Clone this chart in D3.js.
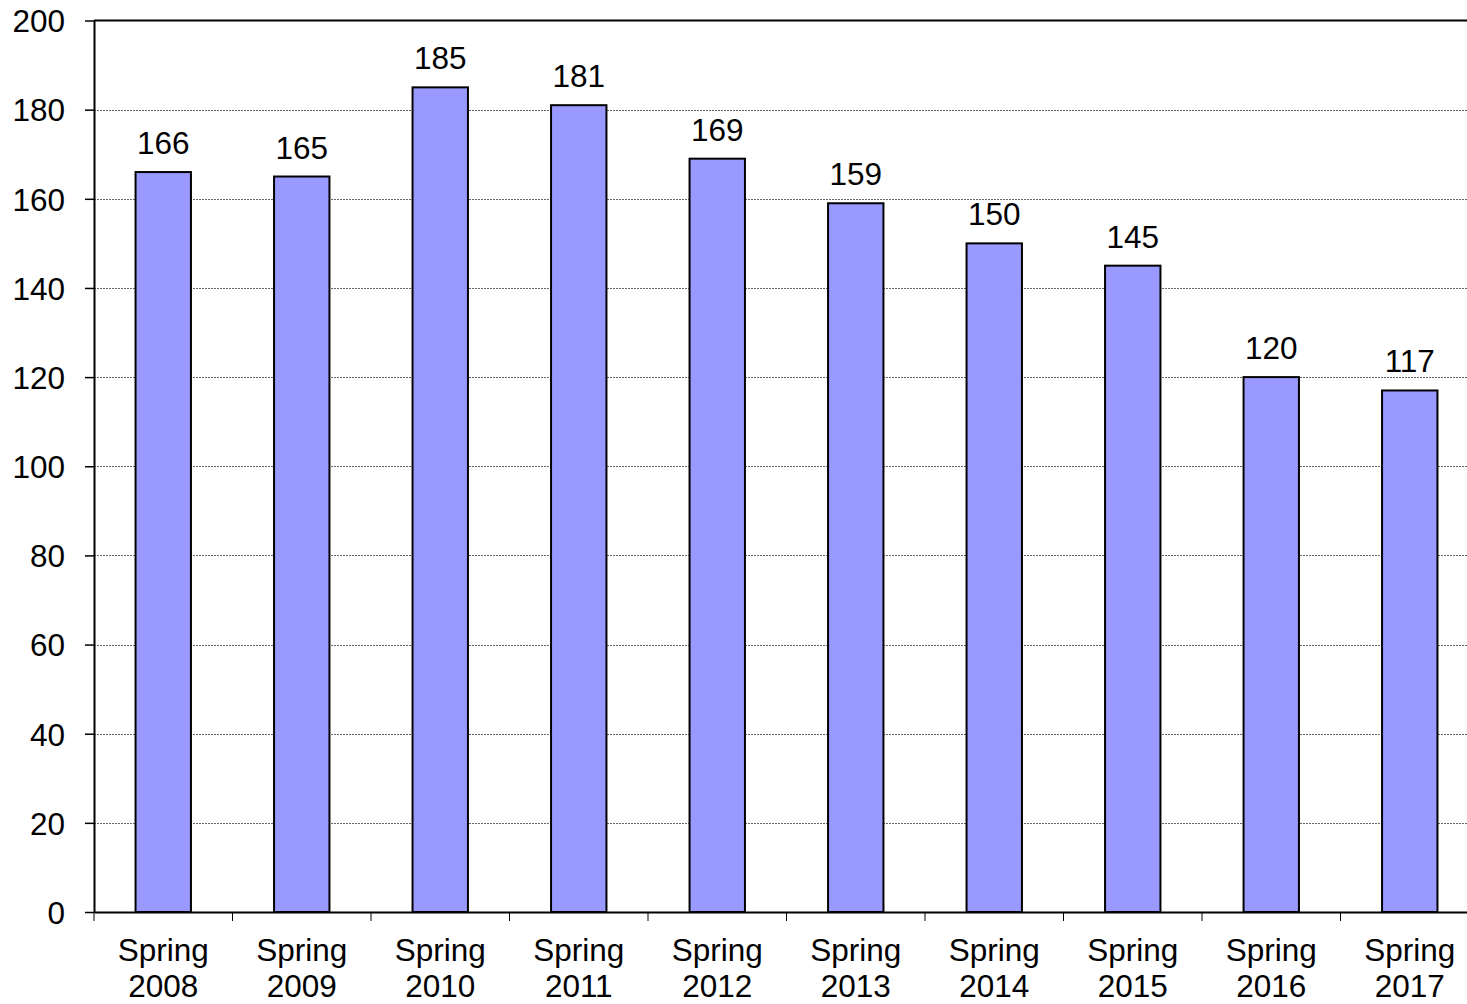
<!DOCTYPE html>
<html>
<head>
<meta charset="utf-8">
<script src="https://cdn.jsdelivr.net/npm/d3@7"></script>
<style>
  body { margin: 0; background: #fff; }
  svg { display: block; font-family: "Liberation Sans", Arial, sans-serif; }
</style>
</head>
<body>
<div id="chart"></div>
<script>
// data
const seasons = ["Spring 2008", "Spring 2009", "Spring 2010", "Spring 2011", "Spring 2012",
                 "Spring 2013", "Spring 2014", "Spring 2015", "Spring 2016", "Spring 2017"];
const counts = [166, 165, 185, 181, 169, 159, 150, 145, 120, 117];
const yTicks = [0, 20, 40, 60, 80, 100, 120, 140, 160, 180, 200];

const width = 1467, height = 1004;
const margin = {top: 20.5, right: -12, bottom: 92, left: 94};
const fontSize = "31.5px";

const svg = d3.select("#chart").append("svg")
  .attr("width", width).attr("height", height);

const x = d3.scaleBand()
  .domain(seasons)
  .range([margin.left, width - margin.right])
  .padding(0);

const y = d3.scaleLinear()
  .domain([0, 200])
  .range([height - margin.bottom, margin.top]);

const barW = x.bandwidth() * 0.4;

// dotted gridlines
svg.append("g")
  .selectAll("line")
  .data(yTicks.filter(d => d > 0 && d < 200))
  .join("line")
    .attr("x1", margin.left)
    .attr("x2", width)
    .attr("y1", d => Math.round(y(d)) + 0.5)
    .attr("y2", d => Math.round(y(d)) + 0.5)
    .attr("stroke", "#666")
    .attr("stroke-width", 1)
    .attr("stroke-dasharray", "2,1");

// top border of plot area
svg.append("line")
  .attr("x1", margin.left).attr("x2", width)
  .attr("y1", y(200)).attr("y2", y(200))
  .attr("stroke", "#000").attr("stroke-width", 2);

// bars
svg.append("g")
  .selectAll("rect")
  .data(counts)
  .join("rect")
    .attr("x", (d, i) => x(seasons[i]) + (x.bandwidth() - barW) / 2)
    .attr("y", d => y(d))
    .attr("width", barW)
    .attr("height", d => y(0) - y(d))
    .attr("fill", "#9999FF")
    .attr("stroke", "#000")
    .attr("stroke-width", 2);

// value labels
svg.append("g")
  .selectAll("text")
  .data(counts)
  .join("text")
    .attr("x", (d, i) => x(seasons[i]) + x.bandwidth() / 2)
    .attr("y", d => y(d) - 18)
    .attr("text-anchor", "middle")
    .style("font-size", fontSize)
    .text(d => d);

// y axis
const yAxis = svg.append("g")
  .attr("transform", `translate(${margin.left},0)`)
  .call(d3.axisLeft(y).tickValues(yTicks).tickSize(9).tickPadding(20).tickSizeOuter(0));
yAxis.select(".domain").attr("stroke", "#000").attr("stroke-width", 2);
yAxis.selectAll(".tick line").attr("stroke", "#000").attr("stroke-width", 1.5);
yAxis.selectAll("text")
  .style("font-size", fontSize)
  .attr("fill", "#000")
  .attr("dy", "0.36em");

// x axis
const xAxis = svg.append("g")
  .attr("transform", `translate(0,${y(0)})`)
  .call(d3.axisBottom(x).tickSize(0).tickFormat(""));
xAxis.select(".domain").attr("stroke", "#000").attr("stroke-width", 2);

// tick marks on band boundaries
svg.append("g")
  .selectAll("line")
  .data(seasons)
  .join("line")
    .attr("x1", d => x(d))
    .attr("x2", d => x(d))
    .attr("y1", y(0))
    .attr("y2", y(0) + 9)
    .attr("stroke", "#000")
    .attr("stroke-width", 1);

// two-line category labels
const labels = svg.append("g")
  .selectAll("text")
  .data(seasons)
  .join("text")
    .attr("text-anchor", "middle")
    .style("font-size", fontSize)
    .attr("transform", d => `translate(${x(d) + x.bandwidth() / 2},0)`);
labels.append("tspan").attr("x", 0).attr("y", 961).text(d => d.split(" ")[0]);
labels.append("tspan").attr("x", 0).attr("y", 997).text(d => d.split(" ")[1]);
</script>
</body>
</html>
